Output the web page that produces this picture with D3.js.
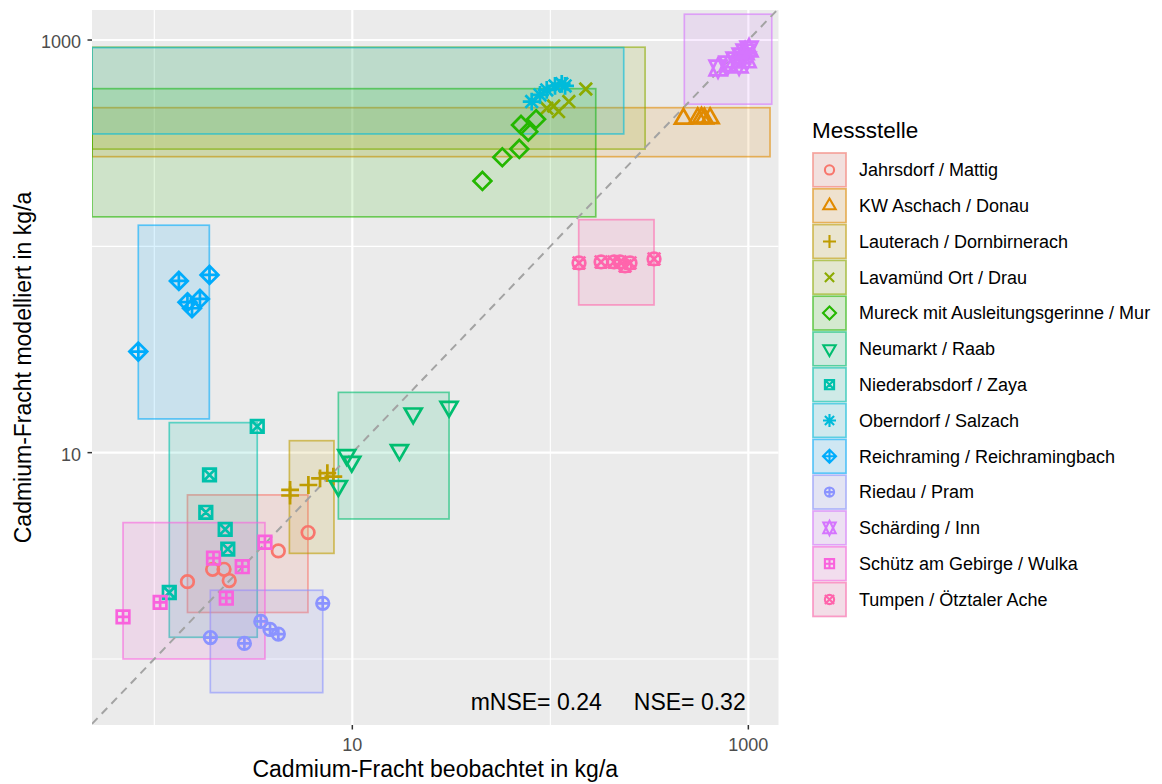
<!DOCTYPE html>
<html><head><meta charset="utf-8">
<script src="https://cdn.jsdelivr.net/npm/d3@7"></script>
<style>
body{margin:0;background:#fff}
svg{display:block}
text{font-family:"Liberation Sans",Arial,Helvetica,sans-serif}
</style>
</head><body>
<svg id="chart" width="1162" height="784"></svg>
<script>
// ---------------- data ----------------
const stations = ["Jahrsdorf / Mattig","KW Aschach / Donau","Lauterach / Dornbirnerach","Lavamünd Ort / Drau",
  "Mureck mit Ausleitungsgerinne / Mur","Neumarkt / Raab","Niederabsdorf / Zaya","Oberndorf / Salzach",
  "Reichraming / Reichramingbach","Riedau / Pram","Schärding / Inn","Schütz am Gebirge / Wulka","Tumpen / Ötztaler Ache"];
const colors = ["#F8766D","#E18A00","#BE9C00","#8CAB00","#24B700","#00BE70","#00C1AB","#00BBDA","#00ACFC","#8B93FF","#D575FE","#F962DD","#FF65AC"];
const shapes = [1,2,3,4,5,6,7,8,9,10,11,12,13];

// observed (x) and modelled (y) loads, kg/a, one list per station
const observed = [
  [1.47, 1.97, 2.25, 2.39, 4.23, 5.98],
  [470, 555, 580, 600, 641],
  [4.85, 4.85, 6.0, 6.87, 7.48, 8.02],
  [151, 124, 110, 104, 96],
  [45.4, 57.2, 69.7, 71.1, 77.4, 84.7],
  [9.37, 9.93, 8.50, 17.3, 20.3, 30.8],
  [3.31, 1.90, 1.82, 2.28, 2.35, 1.19],
  [80.5, 88.7, 95.9, 105.6, 114.2, 118.7],
  [0.83, 1.33, 1.90, 1.47, 1.70, 1.55],
  [1.92, 2.85, 3.45, 3.84, 4.23, 7.09],
  [703, 790, 857, 919, 963, 1008, 985, 898],
  [0.695, 1.07, 1.99, 2.78, 2.31, 3.62],
  [139.6, 180.4, 209.7, 224.9, 238.4, 252.6, 334]
];
const modelled = [
  [2.37, 2.72, 2.72, 2.40, 3.34, 4.10],
  [415, 418, 420, 417, 418],
  [6.6, 6.2, 6.97, 7.51, 7.95, 7.65],
  [579, 503, 450, 479, 467],
  [207.5, 270.3, 296.6, 387.7, 359.7, 413.1],
  [9.74, 9.04, 6.90, 10.3, 15.5, 16.7],
  [13.4, 7.80, 5.14, 4.25, 3.41, 2.10],
  [503, 542, 573, 599, 613, 599],
  [30.9, 68.0, 72.7, 53.6, 55.6, 50.1],
  [1.27, 1.19, 1.52, 1.39, 1.32, 1.86],
  [732, 766, 801, 837, 876, 905, 801, 757],
  [1.60, 1.88, 3.08, 2.80, 1.97, 3.68],
  [83.1, 84.0, 84.0, 84.0, 80.4, 83.1, 86.9]
];
// uncertainty boxes (0 = open towards -Inf on log axis)
const rectObsMin = [1.47, 0, 4.81, 0, 0, 8.5, 1.19, 0, 0.83, 1.918, 475, 0.695, 139.1];
const rectObsMax = [5.97, 1287, 8.08, 301, 169.6, 30.8, 3.31, 234.8, 1.896, 7.09, 1313, 3.62, 334];
const rectModMin = [1.68, 272, 3.25, 296, 139, 4.77, 1.274, 350.6, 14.57, 0.687, 488.5, 1.0, 52.0];
const rectModMax = [6.24, 470, 11.43, 923, 581, 19.6, 13.98, 919, 126.6, 2.153, 1334, 4.58, 134.7];

const majorTicks = [10, 1000];
const minorTicks = [1, 100];
const xDomain = [0.4845, 1420];
const yDomain = [0.4786, 1398];
const annotLabels = ["mNSE= 0.24", "NSE= 0.32"];
const annotX = [39.6, 970];
const annotY = 0.566;
const xTitle = "Cadmium-Fracht beobachtet in kg/a";
const yTitle = "Cadmium-Fracht modelliert in kg/a";
const legendTitle = "Messstelle";

// ---------------- layout ----------------
const P = {l: 92, r: 778.5, t: 10, b: 725};
const svg = d3.select("#chart");
const x = d3.scaleLog().domain(xDomain).range([P.l, P.r]);
const y = d3.scaleLog().domain(yDomain).range([P.b, P.t]);
const sx = v => v > 0 ? x(v) : P.l;
const sy = v => v > 0 ? y(v) : P.b;

svg.append("defs").append("clipPath").attr("id","clip")
  .append("rect").attr("x",P.l).attr("y",P.t).attr("width",P.r-P.l).attr("height",P.b-P.t);

svg.append("rect").attr("x",P.l).attr("y",P.t).attr("width",P.r-P.l).attr("height",P.b-P.t).attr("fill","#EBEBEB");

const grid = svg.append("g");
minorTicks.forEach(v => {
  grid.append("line").attr("x1",x(v)).attr("x2",x(v)).attr("y1",P.t).attr("y2",P.b).attr("stroke","#fff").attr("stroke-width",1.1);
  grid.append("line").attr("y1",y(v)).attr("y2",y(v)).attr("x1",P.l).attr("x2",P.r).attr("stroke","#fff").attr("stroke-width",1.1);
});
majorTicks.forEach(v => {
  grid.append("line").attr("x1",x(v)).attr("x2",x(v)).attr("y1",P.t).attr("y2",P.b).attr("stroke","#fff").attr("stroke-width",2.2);
  grid.append("line").attr("y1",y(v)).attr("y2",y(v)).attr("x1",P.l).attr("x2",P.r).attr("stroke","#fff").attr("stroke-width",2.2);
});

const plot = svg.append("g").attr("clip-path","url(#clip)");

// rectangles
stations.forEach((s,i) => {
  const x0 = sx(rectObsMin[i]), x1 = sx(rectObsMax[i]);
  const y0 = sy(rectModMax[i]), y1 = sy(rectModMin[i]);
  plot.append("rect").attr("x",x0).attr("y",y0).attr("width",x1-x0).attr("height",y1-y0)
    .attr("fill",colors[i]).attr("fill-opacity",0.14)
    .attr("stroke",colors[i]).attr("stroke-opacity",0.6).attr("stroke-width",1.7);
});

// 1:1 line
const lo = Math.max(xDomain[0], yDomain[0]), hi = Math.min(xDomain[1], yDomain[1]);
plot.append("line").attr("x1",x(lo)).attr("y1",y(lo)).attr("x2",x(hi)).attr("y2",y(hi))
  .attr("stroke","#A3A3A3").attr("stroke-width",2).attr("stroke-dasharray","8,6");

// R pch shapes
const T0 = 1.5551, T1 = 1.3468, T2 = 0.7776, S2 = Math.SQRT2;
function circ(r){ return `M${r},0A${r},${r} 0 1,1 ${-r},0A${r},${r} 0 1,1 ${r},0Z`; }
function shapePath(p, u){
  const r = T0*u, xc = T1*u, yc = T2*u;
  switch(p){
    case 1: return circ(u);
    case 2: return `M0,${-r}L${xc},${yc}L${-xc},${yc}Z`;
    case 3: { const a = S2*u; return `M${-a},0H${a}M0,${-a}V${a}`; }
    case 4: return `M${-u},${-u}L${u},${u}M${-u},${u}L${u},${-u}`;
    case 5: { const a = S2*u; return `M0,${-a}L${a},0L0,${a}L${-a},0Z`; }
    case 6: return `M0,${r}L${xc},${-yc}L${-xc},${-yc}Z`;
    case 7: return `M${-u},${-u}H${u}V${u}H${-u}Z M${-u},${-u}L${u},${u}M${-u},${u}L${u},${-u}`;
    case 8: { const a = S2*u; return `M${-u},${-u}L${u},${u}M${-u},${u}L${u},${-u}M${-a},0H${a}M0,${-a}V${a}`; }
    case 9: { const a = S2*u; return `M0,${-a}L${a},0L0,${a}L${-a},0Z M${-a},0H${a}M0,${-a}V${a}`; }
    case 10: return circ(u) + `M${-u},0H${u}M0,${-u}V${u}`;
    case 11: { const yy = 0.5*(yc + r); return `M0,${-r}L${xc},${yy}L${-xc},${yy}Z M0,${r}L${xc},${-yy}L${-xc},${-yy}Z`; }
    case 12: return `M${-u},${-u}H${u}V${u}H${-u}Z M${-u},0H${u}M0,${-u}V${u}`;
    case 13: return circ(u) + `M${-u},${-u}L${u},${u}M${-u},${u}L${u},${-u}`;
  }
}

// points
stations.forEach((s,i) => {
  const pts = observed[i].map((o,j) => [o, modelled[i][j]]);
  plot.append("g").selectAll("path").data(pts).join("path")
    .attr("transform", d => `translate(${x(d[0])},${y(d[1])})`)
    .attr("d", shapePath(shapes[i], 6.3))
    .attr("fill","none").attr("stroke",colors[i]).attr("stroke-width",2.7)
    .attr("stroke-linejoin","miter");
});

// annotation
svg.append("text").attr("x",x(annotX[0])).attr("y",y(annotY)).attr("font-size",23)
  .attr("text-anchor","start").attr("fill","#000").text(annotLabels[0]);
svg.append("text").attr("x",x(annotX[1])).attr("y",y(annotY)).attr("font-size",23)
  .attr("text-anchor","end").attr("fill","#000").text(annotLabels[1]);

// axes
const ax = svg.append("g");
majorTicks.forEach(v => {
  ax.append("line").attr("x1",x(v)).attr("x2",x(v)).attr("y1",P.b).attr("y2",P.b+4.5).attr("stroke","#333").attr("stroke-width",1.5);
  ax.append("text").attr("x",x(v)).attr("y",P.b+25.5).attr("text-anchor","middle").attr("font-size",18).attr("fill","#4D4D4D").text(d3.format("d")(v));
  ax.append("line").attr("y1",y(v)).attr("y2",y(v)).attr("x1",P.l-4.5).attr("x2",P.l).attr("stroke","#333").attr("stroke-width",1.5);
  ax.append("text").attr("x",P.l-11).attr("y",y(v)+8.3).attr("text-anchor","end").attr("font-size",18).attr("fill","#4D4D4D").text(d3.format("d")(v));
});
svg.append("text").attr("x",(P.l+P.r)/2).attr("y",777).attr("text-anchor","middle").attr("font-size",23).attr("fill","#000").text(xTitle);
svg.append("text").attr("transform",`translate(31,${(P.t+P.b)/2}) rotate(-90)`).attr("text-anchor","middle").attr("font-size",23).attr("fill","#000").text(yTitle);

// legend
const L = {x: 812, y: 152, key: 35.8, w: 35};
svg.append("text").attr("x",L.x).attr("y",138).attr("font-size",22.5).attr("fill","#000").text(legendTitle);
stations.forEach((s,i) => {
  const ky = L.y + i*L.key;
  const g = svg.append("g");
  g.append("rect").attr("x",L.x).attr("y",ky).attr("width",L.w).attr("height",L.key).attr("fill","#F2F2F2");
  g.append("rect").attr("x",L.x+1).attr("y",ky+1).attr("width",L.w-2).attr("height",L.key-2)
    .attr("fill",colors[i]).attr("fill-opacity",0.14).attr("stroke",colors[i]).attr("stroke-opacity",0.6).attr("stroke-width",1.7);
  g.append("path").attr("transform",`translate(${L.x+L.w/2},${ky+L.key/2})`).attr("d",shapePath(shapes[i],4.6))
    .attr("fill","none").attr("stroke",colors[i]).attr("stroke-width",2.1);
  g.append("text").attr("x",859).attr("y",ky+L.key/2+6.3).attr("font-size",18).attr("fill","#000").text(s);
});
</script>
</body></html>
